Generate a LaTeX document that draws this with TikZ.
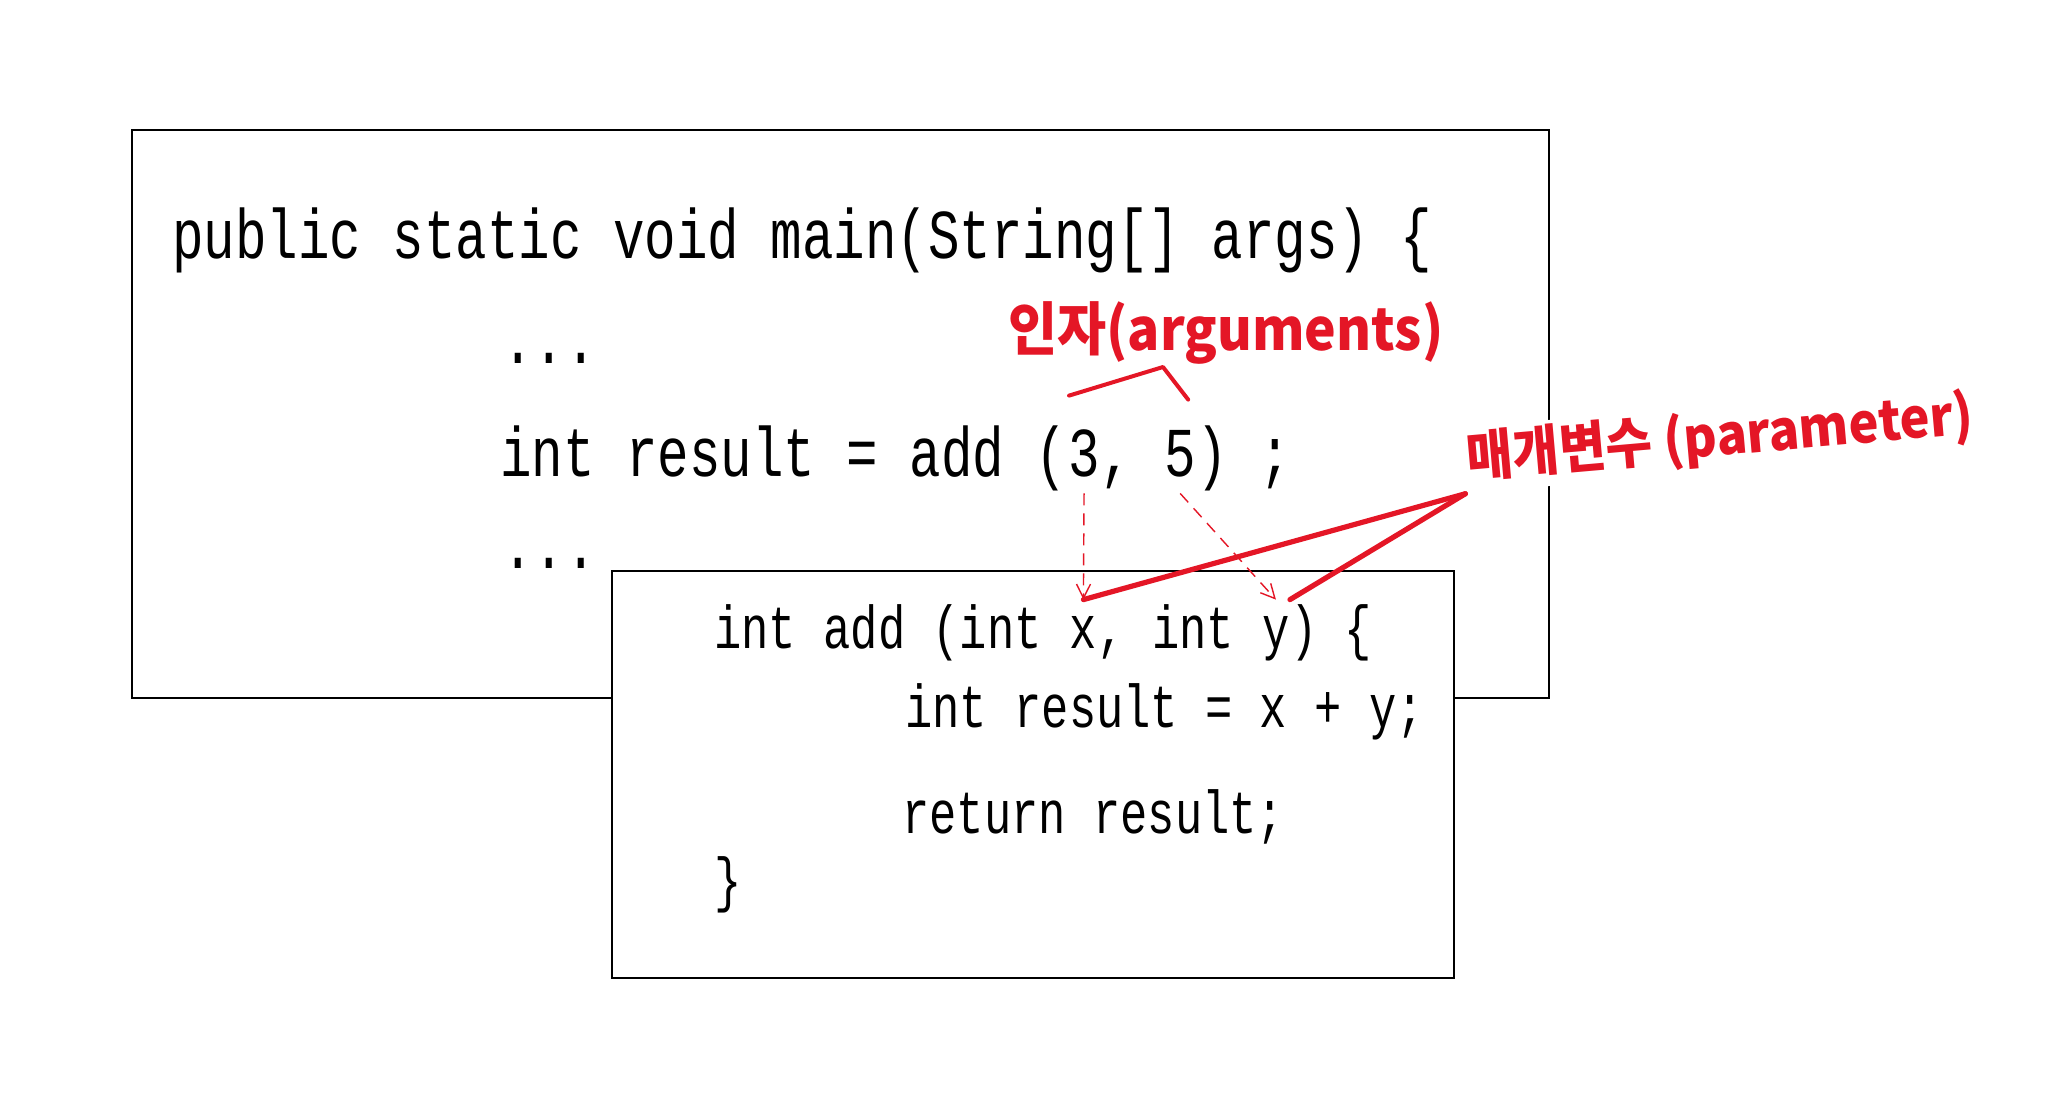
\documentclass[tikz,border=0pt]{standalone}
\usepackage{fontspec}
\setmonofont{Liberation Mono}[FakeStretch=0.75]
\newfontfamily\krfont{Noto Sans CJK KR}[FakeStretch=0.92]
\usetikzlibrary{arrows.meta}
\definecolor{penred}{RGB}{228,22,38}
\tikzset{
  boxline/.style={draw=black, line width=1.3pt},
  outercode/.style={font=\ttfamily\fontsize{35}{40}\selectfont, inner sep=0pt, text height=28pt, text depth=8.5pt, anchor=base west},
  innercode/.style={outercode, font=\ttfamily\fontsize{30.3}{35}\selectfont, text height=24pt, text depth=7.5pt},
  redlabel/.style={text=penred, inner sep=2pt, anchor=base west},
  passarrow/.style={draw=penred, line width=0.7pt, dash pattern=on 6pt off 4pt, -{Straight Barb[length=7pt, width=7pt]}},
  bracketline/.style={draw=penred, line width=2pt, line cap=round, line join=round},
  paramline/.style={draw=penred, line width=2.6pt, line cap=round}
}
\begin{document}
\begin{tikzpicture}[x=0.5pt, y=-0.5pt]
  \useasboundingbox (0,0) rectangle (2072,1099);
  \draw[boxline] (132,130) rectangle (1549,698);
  \node[outercode] (mainsig) at (172,258) {public static void main(String[] args) \{};
  \node[outercode] (dotsabove) at (502,363) {...};
  \node[outercode] (callhead) at (500,476) {int result = add (};
  \node[outercode] (argthree) at (callhead.base east) {3};
  \node[outercode] (argcomma) at (argthree.base east) {,~\null};
  \node[outercode] (argfive) at (argcomma.base east) {5};
  \node[outercode] (calltail) at (argfive.base east) {) ;};
  \node[outercode] (dotsbelow) at (502,568) {...};

  \draw[boxline, fill=white] (612,571) rectangle (1454,978);
  \node[innercode] (defhead) at (714,648) {int add (int~\null};
  \node[innercode] (parx) at (defhead.base east) {x};
  \node[innercode] (parsep) at (parx.base east) {, int~\null};
  \node[innercode] (pary) at (parsep.base east) {y};
  \node[innercode] (deftail) at (pary.base east) {) \{};
  \node[innercode] (sumline) at (905,727) {int result = x + y;};
  \node[innercode] (retline) at (902,833) {return result;};
  \node[innercode] (defclose) at (714,900) {\}};

  \node[redlabel, font=\krfont\bfseries\fontsize{29}{32}\selectfont] (arglabel) at (1004,350) {인자(arguments)};
  \node[redlabel, fill=white, rotate=5, font=\krfont\bfseries\fontsize{27.5}{31}\selectfont] (paramlabel) at (1464,478) {매개변수 (parameter)};
  \coordinate (argapex) at (1163,367);
  \draw[bracketline] ([shift={(-15,-24)}]argthree.north) -- (argapex) -- ([shift={(8,-20)}]argfive.north);
  \draw[passarrow] (argthree.south) -- (parx.north);
  \draw[passarrow] (argfive.south) -- (pary.north);
  \draw[paramline] (paramlabel.south west) -- (parx.north);
  \draw[paramline] (paramlabel.south west) -- (pary.north east);
\end{tikzpicture}
\end{document}
